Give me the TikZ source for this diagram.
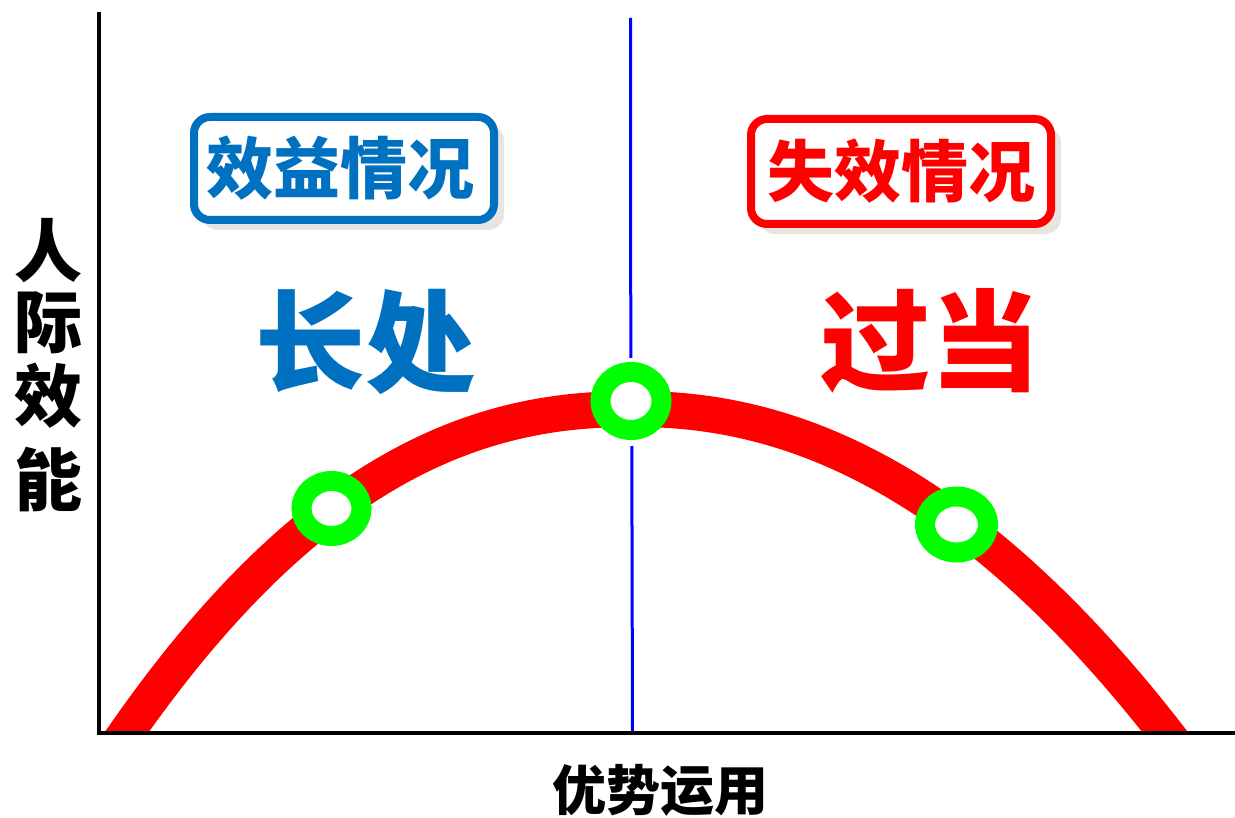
\documentclass[tikz,border=0pt]{standalone}
\usepackage{fontspec}
\newfontfamily\cjk{Noto Sans CJK SC}
\definecolor{mblue}{HTML}{0070C0}
\definecolor{mred}{HTML}{FF0000}
\definecolor{mgreen}{HTML}{00FF00}
\definecolor{shadowc}{HTML}{D8D4CC}
\tikzset{
  axisline/.style={black, line width=3.5pt},
  divline/.style={blue, line width=3pt},
  curveline/.style={mred, line width=36pt, line join=round},
  ring/.style={draw=mgreen, fill=white, line width=20pt},
  framebox/.style={rounded corners=16pt, line width=8pt, fill=white},
  boxshadow/.style={rounded corners=16pt, fill=shadowc, opacity=0.6},
  boxtext/.style={font=\cjk\bfseries\fontsize{67}{67}\selectfont, inner sep=0pt},
  bigtext/.style={font=\cjk\bfseries\fontsize{110}{110}\selectfont, inner sep=0pt},
  axistext/.style={font=\cjk\bfseries\fontsize{68}{68}\selectfont, inner sep=0pt},
  xtext/.style={font=\cjk\bfseries\fontsize{54}{54}\selectfont, inner sep=0pt},
}
\begin{document}
\begin{tikzpicture}[x=1pt,y=-1pt]
\useasboundingbox (0,0) rectangle (1235,818);
% red curve, clipped at the x axis
\begin{scope}
\clip (0,0) rectangle (1235,732);
\draw[curveline]
  plot[domain=80:634, samples=120] (\x, {409 + 8.33*((635-\x)/100)^2.25})
  -- plot[domain=636:1210, samples=120] (\x, {409 + 9.73*((\x-635)/100)^2.1});
\end{scope}
% divider
\coordinate (d0) at (630.5,18);
\coordinate (d1) at (630.8,358);
\coordinate (d2) at (631.8,446);
\coordinate (d3) at (632.5,733);
\draw[divline] (d0) -- (d1);
\draw[divline] (d2) -- (d3);
% rings
\draw[ring] (331.5,508.5) ellipse [x radius=30, y radius=27.5];
\draw[ring] (631,401) ellipse [x radius=30.5, y radius=29];
\draw[ring] (956.5,524.5) ellipse [x radius=31.5, y radius=28];
% axes
\coordinate (ytop) at (99,12);
\coordinate (ybot) at (99,735);
\coordinate (xbeg) at (97,733);
\coordinate (xend) at (1235,733);
\draw[axisline] (ytop) -- (ybot);
\draw[axisline] (xbeg) -- (xend);
% boxes
\fill[boxshadow] (202,125) rectangle (504,230);
\draw[framebox, draw=mblue] (194,117) rectangle (494,220);
\fill[boxshadow] (759,127) rectangle (1061,234);
\draw[framebox, draw=mred] (751,119) rectangle (1051,224);
\node[boxtext, text=mblue] (b1) at (340,168.5) {效益情况};
\node[boxtext, text=mred] (b2) at (901,171) {失效情况};
% big words
\node[bigtext, text=mblue] (long) at (365,342) {长处};
\node[bigtext, text=mred] (over) at (930,341) {过当};
% axis labels
\node[axistext] (yl1) at (49,251) {人};
\node[axistext] (yl2) at (49,323) {际};
\node[axistext] (yl3) at (49,396) {效};
\node[axistext] (yl4) at (49,480) {能};
\node[xtext] (xl) at (660,790) {优势运用};
\end{tikzpicture}
\end{document}
